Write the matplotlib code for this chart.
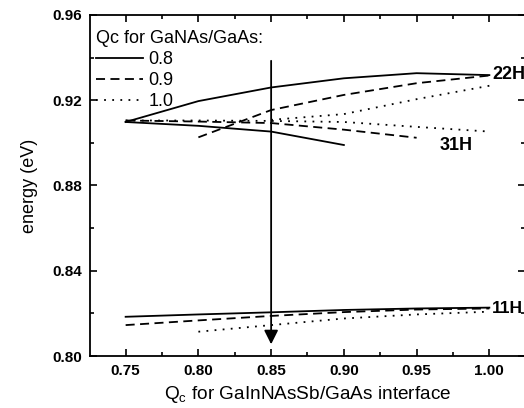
import matplotlib
matplotlib.use("Agg")
import matplotlib.pyplot as plt
from matplotlib.ticker import MultipleLocator, FormatStrFormatter

plt.rcParams['font.family'] = ['Liberation Sans', 'DejaVu Sans']
plt.rcParams['mathtext.fontset'] = 'custom'
plt.rcParams['mathtext.rm'] = 'Liberation Sans'
plt.rcParams['mathtext.default'] = 'regular'

# Qc for GaInNAsSb/GaAs interface
qc_full = [0.75, 0.80, 0.85, 0.90, 0.95, 1.00]

# Qc(GaNAs/GaAs) = 0.8 (solid)
s_22h_x = [0.75, 0.80, 0.85, 0.90, 0.95, 1.00]
s_22h_y = [0.9098, 0.9196, 0.9260, 0.9303, 0.9327, 0.9318]
s_31h_x = [0.75, 0.80, 0.85, 0.90]
s_31h_y = [0.9098, 0.9080, 0.9053, 0.8990]
s_11h_x = [0.75, 0.80, 0.85, 0.90, 0.95, 1.00]
s_11h_y = [0.8184, 0.8195, 0.8205, 0.8216, 0.8223, 0.8227]

# Qc(GaNAs/GaAs) = 0.9 (dashed)
d_22h_x = [0.80, 0.85, 0.90, 0.95, 1.00]
d_22h_y = [0.9026, 0.9154, 0.9225, 0.9280, 0.9316]
d_31h_x = [0.75, 0.80, 0.85, 0.90, 0.95]
d_31h_y = [0.9105, 0.9100, 0.9093, 0.9062, 0.9024]
d_11h_x = [0.75, 0.80, 0.85, 0.90, 0.95, 1.00]
d_11h_y = [0.8145, 0.8167, 0.8188, 0.8206, 0.8218, 0.8223]

# Qc(GaNAs/GaAs) = 1.0 (dotted)
o_22h_x = [0.85, 0.90, 0.95, 1.00]
o_22h_y = [0.9108, 0.9135, 0.9205, 0.9268]
o_31h_x = [0.75, 0.80, 0.85, 0.90, 0.95, 1.00]
o_31h_y = [0.9105, 0.9105, 0.9103, 0.9098, 0.9075, 0.9053]
o_11h_x = [0.80, 0.85, 0.90, 0.95, 1.00]
o_11h_y = [0.8114, 0.8145, 0.8176, 0.8195, 0.8208]

legend_labels = ['0.8', '0.9', '1.0']
legend_title = 'Qc for GaNAs/GaAs:'

fig = plt.figure(figsize=(5.24, 4.08), dpi=100)
ax = fig.add_axes([90/524, 52/408, 435/524, 341/408])

lw = 1.3
solid = dict(color='black', lw=lw, ls='-')
dashed = dict(color='black', lw=lw, ls=(0, (5, 3)))
dotted = dict(color='black', lw=lw, ls=(0, (1, 3.5)))

ax.plot(s_22h_x, s_22h_y, label=legend_labels[0], **solid)
ax.plot(s_31h_x, s_31h_y, **solid)
ax.plot(s_11h_x, s_11h_y, **solid)
ax.plot(d_22h_x, d_22h_y, label=legend_labels[1], **dashed)
ax.plot(d_31h_x, d_31h_y, **dashed)
ax.plot(d_11h_x, d_11h_y, **dashed)
ax.plot(o_22h_x, o_22h_y, label=legend_labels[2], **dotted)
ax.plot(o_31h_x, o_31h_y, **dotted)
ax.plot(o_11h_x, o_11h_y, **dotted)

ax.annotate('', xy=(0.85, 0.8055), xytext=(0.85, 0.9385),
            arrowprops=dict(arrowstyle='-|>,head_length=0.7,head_width=0.35',
                            mutation_scale=12, lw=1.3, color='black',
                            shrinkA=0, shrinkB=0))

ax.text(1.002, 0.9320, '22H', fontsize=13, fontweight='bold', va='center', ha='left')
ax.text(0.9655, 0.8990, '31H', fontsize=13, fontweight='bold', va='center', ha='left')
ax.text(1.002, 0.8225, '11H', fontsize=12.5, fontweight='bold', va='center', ha='left')

ax.set_xlim(0.7255, 1.0245)
ax.set_ylim(0.80, 0.96)
ax.xaxis.set_major_locator(MultipleLocator(0.05))
ax.xaxis.set_minor_locator(MultipleLocator(0.025))
ax.yaxis.set_major_locator(MultipleLocator(0.04))
ax.yaxis.set_minor_locator(MultipleLocator(0.02))
ax.xaxis.set_major_formatter(FormatStrFormatter('%.2f'))
ax.yaxis.set_major_formatter(FormatStrFormatter('%.2f'))
ax.tick_params(which='both', direction='in', top=True, right=True, width=1.2)
ax.tick_params(which='major', length=5, labelsize=11, pad=6)
ax.tick_params(which='minor', length=3)
for lab in ax.get_xticklabels() + ax.get_yticklabels():
    lab.set_fontweight('bold')
for sp in ax.spines.values():
    sp.set_linewidth(1.3)

ax.set_xlabel('Q$_c$ for GaInNAsSb/GaAs interface', fontsize=13.7, labelpad=4)
ax.set_ylabel('energy (eV)', fontsize=13, labelpad=10)

leg = ax.legend(title=legend_title, loc='upper left', bbox_to_anchor=(0.014, 0.955),
                frameon=False, fontsize=13, title_fontsize=13, handlelength=2.6,
                handletextpad=0.3, labelspacing=0.22, borderpad=0, borderaxespad=0,
                alignment='left')

fig.savefig('out.png', dpi=100)
